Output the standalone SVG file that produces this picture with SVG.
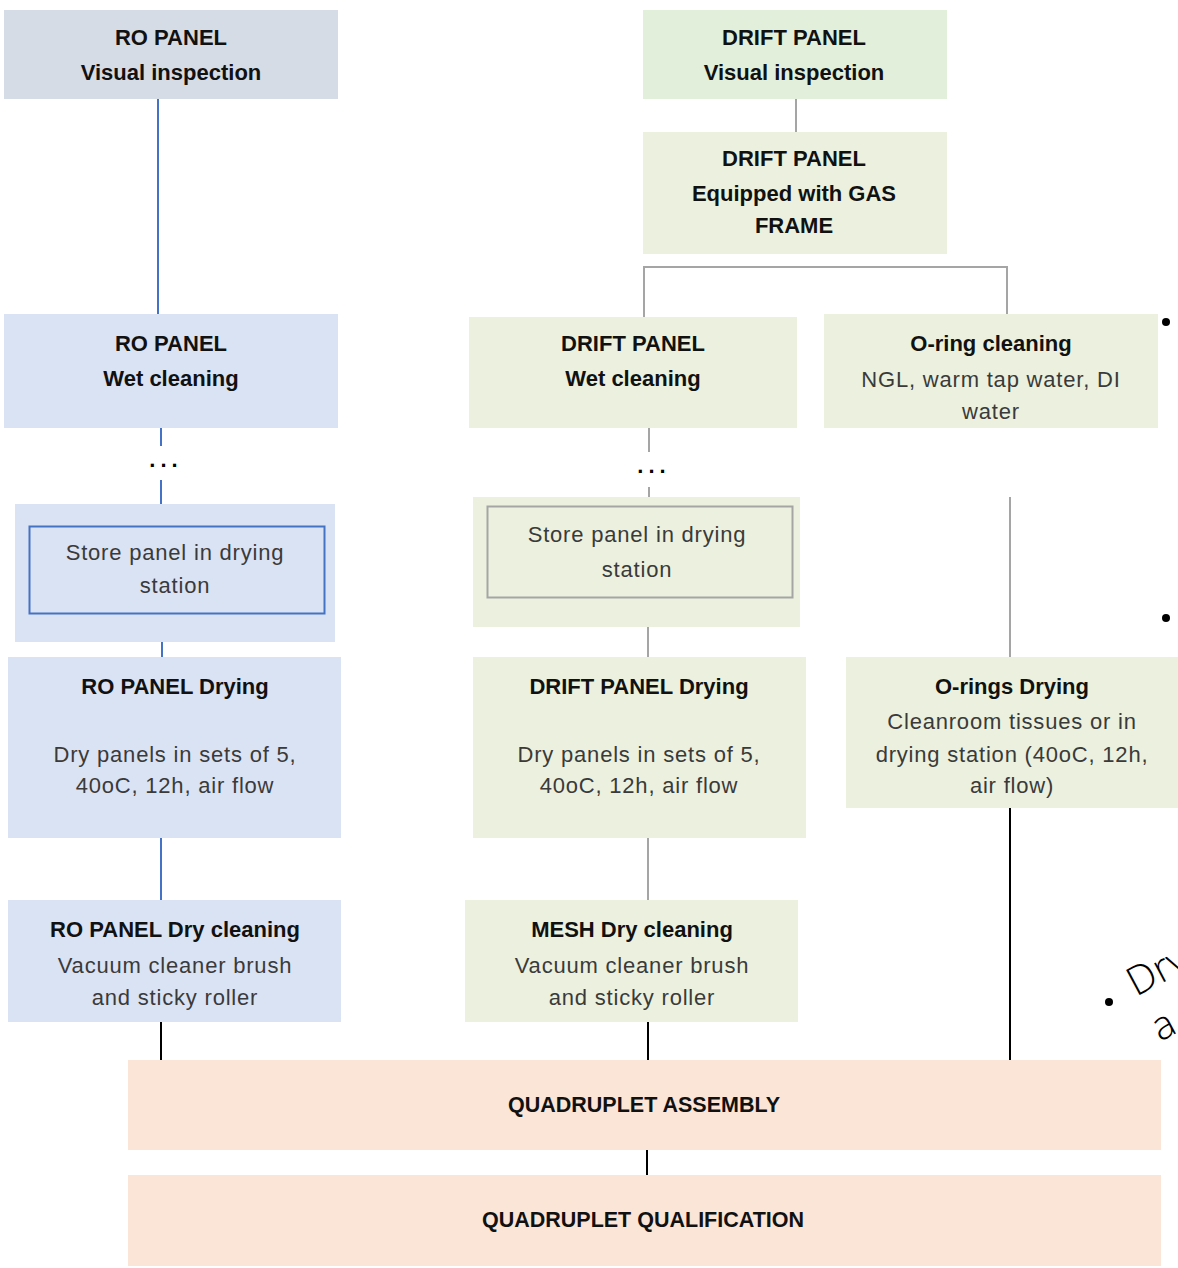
<svg xmlns="http://www.w3.org/2000/svg" width="1178" height="1268" viewBox="0 0 1178 1268">
<style>
text{font-family:"Liberation Sans",Arial,sans-serif;text-anchor:middle}
.b{font-weight:bold;font-size:22px;fill:#111}
.r{font-size:22px;fill:#3a3a3a;letter-spacing:0.8px}
.q{font-weight:bold;font-size:21.5px;fill:#111}
.gray{fill:#d6dce5}.blue{fill:#dae3f3}.green{fill:#e2efda}.olive{fill:#ebf1de}.peach{fill:#fbe5d6}
.lb{stroke:#4472c4;stroke-width:2;fill:none}
.lg{stroke:#a5a5a5;stroke-width:2;fill:none}
.lk{stroke:#000;stroke-width:2;fill:none}
.dots{font-weight:bold;font-size:22px;fill:#000;letter-spacing:5px}
</style>
<rect width="1178" height="1268" fill="#fff"/>
<g id="connectors">
<line class="lb" x1="158" y1="99" x2="158" y2="314"/>
<line class="lb" x1="161" y1="428" x2="161" y2="446"/>
<line class="lb" x1="161" y1="480" x2="161" y2="504"/>
<line class="lb" x1="162" y1="642" x2="162" y2="657"/>
<line class="lb" x1="161" y1="838" x2="161" y2="900"/>
<line class="lk" x1="161" y1="1022" x2="161" y2="1060"/>
<line class="lg" x1="796" y1="99" x2="796" y2="132"/>
<polyline class="lg" points="644,317 644,267 1007,267 1007,314"/>
<line class="lg" x1="649" y1="428" x2="649" y2="452"/>
<line class="lg" x1="649" y1="487" x2="649" y2="506"/>
<line class="lg" x1="648" y1="627" x2="648" y2="657"/>
<line class="lg" x1="648" y1="838" x2="648" y2="900"/>
<line class="lk" x1="648" y1="1022" x2="648" y2="1060"/>
<line class="lg" x1="1010" y1="497" x2="1010" y2="657"/>
<line class="lk" x1="1010" y1="808" x2="1010" y2="1060"/>
<line class="lk" x1="647" y1="1150" x2="647" y2="1175"/>
</g>
<g id="ro-visual"><rect class="gray" x="4" y="10" width="334" height="89"/>
<text class="b" x="171" y="45">RO PANEL</text><text class="b" x="171" y="80">Visual inspection</text></g>
<g id="drift-visual"><rect class="green" x="643" y="10" width="304" height="89"/>
<text class="b" x="794" y="45">DRIFT PANEL</text><text class="b" x="794" y="80">Visual inspection</text></g>
<g id="drift-equipped"><rect class="olive" x="643" y="132" width="304" height="122"/>
<text class="b" x="794" y="166">DRIFT PANEL</text><text class="b" x="794" y="201">Equipped with GAS</text><text class="b" x="794" y="233">FRAME</text></g>
<g id="ro-wet"><rect class="blue" x="4" y="314" width="334" height="114"/>
<text class="b" x="171" y="351">RO PANEL</text><text class="b" x="171" y="386">Wet cleaning</text></g>
<g id="drift-wet"><rect class="olive" x="469" y="317" width="328" height="111"/>
<text class="b" x="633" y="351">DRIFT PANEL</text><text class="b" x="633" y="386">Wet cleaning</text></g>
<g id="oring-cleaning"><rect class="olive" x="824" y="314" width="334" height="114"/>
<text class="b" x="991" y="351">O-ring cleaning</text><text class="r" x="991" y="387">NGL, warm tap water, DI</text><text class="r" x="991" y="419">water</text></g>
<g id="ro-dots"><text class="dots" x="166" y="467">...</text></g>
<g id="drift-dots"><text class="dots" x="654" y="473">...</text></g>
<g id="ro-store"><rect class="blue" x="15" y="504" width="320" height="138"/>
<rect x="29.5" y="526.5" width="295" height="87" fill="none" stroke="#4472c4" stroke-width="2"/>
<text class="r" x="175" y="560">Store panel in drying</text><text class="r" x="175" y="593">station</text></g>
<g id="drift-store"><rect class="olive" x="473" y="497" width="327" height="130"/>
<rect x="487.5" y="506.5" width="305" height="91" fill="none" stroke="#a5a5a5" stroke-width="2"/>
<text class="r" x="637" y="542">Store panel in drying</text><text class="r" x="637" y="577">station</text></g>
<g id="ro-drying"><rect class="blue" x="8" y="657" width="333" height="181"/>
<text class="b" x="175" y="694">RO PANEL Drying</text><text class="r" x="175" y="762">Dry panels in sets of 5,</text><text class="r" x="175" y="793">40oC, 12h, air flow</text></g>
<g id="drift-drying"><rect class="olive" x="473" y="657" width="333" height="181"/>
<text class="b" x="639" y="694">DRIFT PANEL Drying</text><text class="r" x="639" y="762">Dry panels in sets of 5,</text><text class="r" x="639" y="793">40oC, 12h, air flow</text></g>
<g id="orings-drying"><rect class="olive" x="846" y="657" width="332" height="151"/>
<text class="b" x="1012" y="694">O-rings Drying</text><text class="r" x="1012" y="729">Cleanroom tissues or in</text><text class="r" x="1012" y="762">drying station (40oC, 12h,</text><text class="r" x="1012" y="793">air flow)</text></g>
<g id="ro-dry-cleaning"><rect class="blue" x="8" y="900" width="333" height="122"/>
<text class="b" x="175" y="937">RO PANEL Dry cleaning</text><text class="r" x="175" y="973">Vacuum cleaner brush</text><text class="r" x="175" y="1005">and sticky roller</text></g>
<g id="mesh-dry-cleaning"><rect class="olive" x="465" y="900" width="333" height="122"/>
<text class="b" x="632" y="937">MESH Dry cleaning</text><text class="r" x="632" y="973">Vacuum cleaner brush</text><text class="r" x="632" y="1005">and sticky roller</text></g>
<g id="quad-assembly"><rect class="peach" x="128" y="1060" width="1033" height="90"/>
<text class="q" x="644" y="1112">QUADRUPLET ASSEMBLY</text></g>
<g id="quad-qualification"><rect class="peach" x="128" y="1175" width="1033" height="91"/>
<text class="q" x="643" y="1227">QUADRUPLET QUALIFICATION</text></g>
<g id="side-text">
<circle cx="1166" cy="322" r="4" fill="#000"/>
<circle cx="1166" cy="618" r="4" fill="#000"/>
<circle cx="1109" cy="1002" r="4" fill="#000"/>
<text x="1136" y="997" transform="rotate(-28 1136 997)" style="font-family:'Open Sans',sans-serif;font-weight:300;font-size:40px;text-anchor:start;fill:#000">Dry</text>
<text x="1160" y="1042" transform="rotate(-28 1160 1042)" style="font-family:'Open Sans',sans-serif;font-weight:300;font-size:40px;text-anchor:start;fill:#000">a</text>
</g>
</svg>
